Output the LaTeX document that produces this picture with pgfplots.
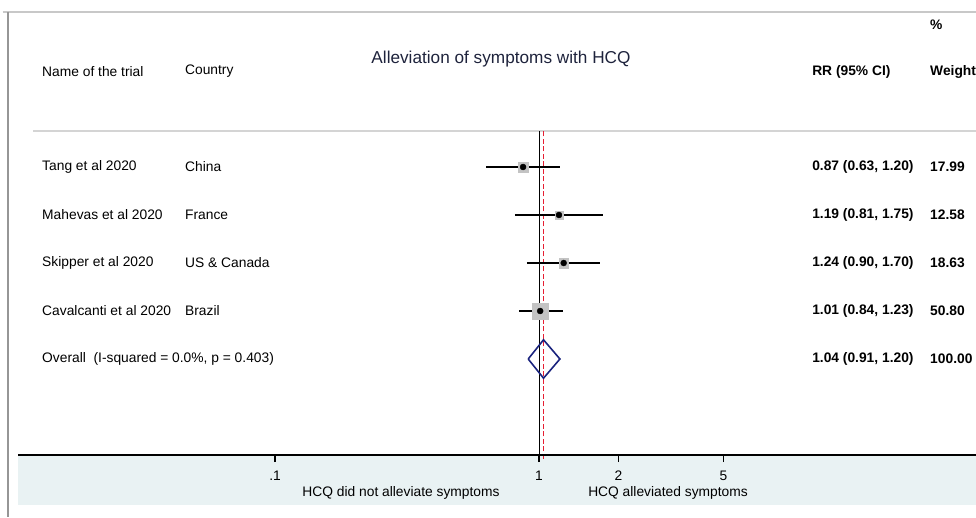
\documentclass[border=0pt]{standalone}
\usepackage{pgfplots}
\pgfplotsset{compat=1.18}
\usepackage{pgfplotstable}
\usepackage{fontspec}
\setmainfont{Liberation Sans}
\definecolor{bandc}{RGB}{233,242,243}
\definecolor{sqgray}{RGB}{195,195,195}
\definecolor{navyd}{RGB}{26,35,126}
\definecolor{redd}{RGB}{230,30,50}
\definecolor{titc}{RGB}{30,35,60}
\definecolor{framet}{RGB}{200,200,200}
\definecolor{framel}{RGB}{150,150,150}
\definecolor{sepc}{RGB}{212,212,212}
\newcommand\fs{\fontsize{13.8pt}{16pt}\selectfont}
\pgfplotstableread{
rr   lo   hi   w     y
0.87 0.63 1.20 17.99 5
1.19 0.81 1.75 12.58 4
1.24 0.90 1.70 18.63 3
1.01 0.84 1.23 50.80 2
}\studies
\begin{document}
\begin{tikzpicture}
\begin{axis}[
  set layers=standard,
  scale only axis, width=958pt, height=443pt,
  xmode=log, xmin=0.01063, xmax=45.2, ymin=-1, ymax=8.229,
  axis x line*=bottom, axis y line=none,
  x axis line style={draw=black, line width=1.2pt, -},
  xtick={0.1,1,2,5}, xticklabels={.1,1,2,5},
  tick align=outside, major tick length=7pt,
  tick style={draw=black, line width=1.2pt, solid},
  xticklabel style={font=\fs, text=black, yshift=-5pt},
  axis on top,
  clip=false,
]
% frame and band (background layer)
\begin{pgfonlayer}{axis background}
\fill[bandc] (axis cs:0.01063,-1) rectangle (axis cs:45.2,-2.042);
\draw[framet, line width=2pt] (axis cs:0.0093,8.229) -- (axis cs:45.2,8.229);
\draw[framel, line width=2pt] (axis cs:0.00975,8.229) -- (axis cs:0.00975,-2.2917);
\draw[sepc, line width=1.5pt] (axis cs:0.01212,5.75) -- (axis cs:45.2,5.75);
\end{pgfonlayer}
% reference lines
\addplot[draw=black, line width=1pt] coordinates {(1,-1) (1,5.75)};
\addplot[draw=redd, line width=1.4pt, dash pattern=on 5pt off 2.5pt] coordinates {(1.04,-1.08) (1.04,5.75)};
% squares by weight (half side = 1.15*sqrt(weight))
\addplot[only marks, mark=square*, mark size=4.88pt, color=sqgray] coordinates {(0.87,5)};
\addplot[only marks, mark=square*, mark size=4.08pt, color=sqgray] coordinates {(1.19,4)};
\addplot[only marks, mark=square*, mark size=4.96pt, color=sqgray] coordinates {(1.24,3)};
\addplot[only marks, mark=square*, mark size=8.20pt, color=sqgray] coordinates {(1.01,2)};
% confidence intervals
\addplot[color=black, line width=1.8pt] coordinates {(0.63,5) (1.20,5)};
\addplot[color=black, line width=1.8pt] coordinates {(0.81,4) (1.75,4)};
\addplot[color=black, line width=1.8pt] coordinates {(0.90,3) (1.70,3)};
\addplot[color=black, line width=1.8pt] coordinates {(0.84,2) (1.23,2)};
% point estimates
\addplot[only marks, mark=*, mark size=3pt, color=black] table[x=rr, y=y] {\studies};
% overall diamond
\addplot[color=navyd, line width=1.6pt] coordinates {(0.91,1) (1.04,1.4) (1.20,1) (1.04,0.6) (0.91,1)};
% tick marks (explicit)
\addplot[draw=black, line width=1.2pt] coordinates {(0.1,-1) (0.1,-1.14)};
\addplot[draw=black, line width=1.2pt] coordinates {(1,-1) (1,-1.14)};
\addplot[draw=black, line width=1.2pt] coordinates {(2,-1) (2,-1.14)};
\addplot[draw=black, line width=1.2pt] coordinates {(5,-1) (5,-1.14)};
% texts
\node[font=\fontsize{17.2pt}{20pt}\selectfont, text=titc, inner sep=0] at (axis cs:0.7178,7.25) {Alleviation of symptoms with HCQ};
\begin{scope}[every node/.style={font=\fs, anchor=west, inner sep=0, text=black}]
\node at (axis cs:0.01311,6.99) {Name of the trial};
\node at (axis cs:0.04560,6.99) {Country};
\node[font=\fs\bfseries] at (axis cs:10.82,6.99) {RR (95\% CI)};
\node[font=\fs\bfseries] at (axis cs:30.27,6.99) {Weight};
\node[font=\fs\bfseries] at (axis cs:30.27,7.97) {\%};
\node at (axis cs:0.01311,5) {Tang et al 2020};
\node at (axis cs:0.04560,5) {China};
\node at (axis cs:0.01311,4) {Mahevas et al 2020};
\node at (axis cs:0.04560,4) {France};
\node at (axis cs:0.01311,3) {Skipper et al 2020};
\node at (axis cs:0.04560,3) {US \& Canada};
\node at (axis cs:0.01311,2) {Cavalcanti et al 2020};
\node at (axis cs:0.04560,2) {Brazil};
\node at (axis cs:0.01311,1) {Overall\ \ (I-squared = 0.0\%, p = 0.403)};
\node[font=\fs\bfseries] at (axis cs:10.82,5) {0.87 (0.63, 1.20)};
\node[font=\fs\bfseries] at (axis cs:10.82,4) {1.19 (0.81, 1.75)};
\node[font=\fs\bfseries] at (axis cs:10.82,3) {1.24 (0.90, 1.70)};
\node[font=\fs\bfseries] at (axis cs:10.82,2) {1.01 (0.84, 1.23)};
\node[font=\fs\bfseries] at (axis cs:10.82,1) {1.04 (0.91, 1.20)};
\node[font=\fs\bfseries] at (axis cs:30.27,5) {17.99};
\node[font=\fs\bfseries] at (axis cs:30.27,4) {12.58};
\node[font=\fs\bfseries] at (axis cs:30.27,3) {18.63};
\node[font=\fs\bfseries] at (axis cs:30.27,2) {50.80};
\node[font=\fs\bfseries] at (axis cs:30.27,1) {100.00};
\end{scope}
\node[font=\fs, inner sep=0] at (axis cs:0.30,-1.79) {HCQ did not alleviate symptoms};
\node[font=\fs, inner sep=0] at (axis cs:3.08,-1.79) {HCQ alleviated symptoms};
\end{axis}
\pgfresetboundingbox
\path ([xshift=-18pt,yshift=-62pt]current axis.south west) rectangle ([yshift=12pt]current axis.north east);
\end{tikzpicture}
\end{document}
